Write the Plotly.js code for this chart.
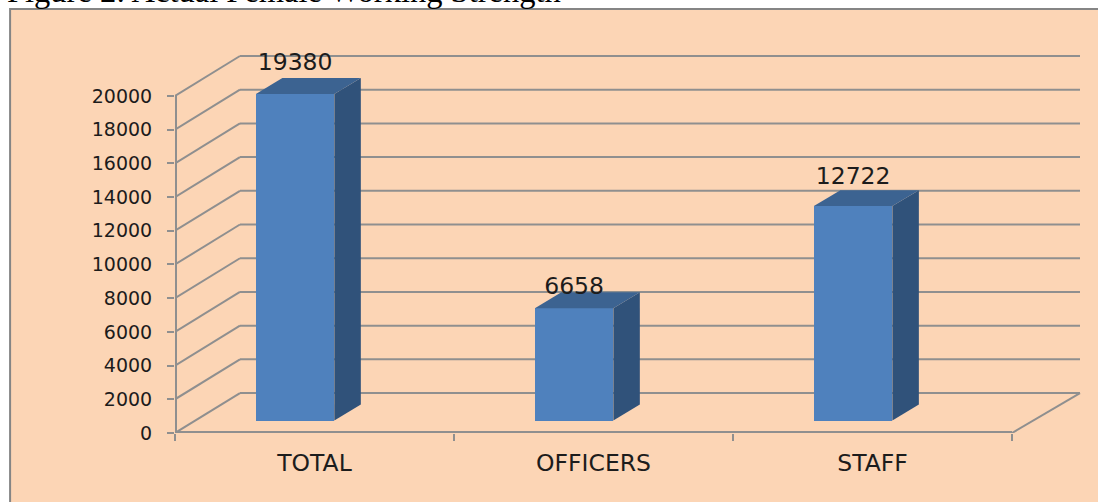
<!DOCTYPE html>
<html>
<head>
<meta charset="utf-8">
<script src="https://cdn.plot.ly/plotly-3.0.1.min.js"></script>
<style>html,body{margin:0;padding:0;background:#fff;overflow:hidden}#chart{width:1098px;height:502px}</style>
</head>
<body>
<div id="chart"></div>
<script>
const categories = ["TOTAL", "OFFICERS", "STAFF"];
const values = [19380, 6658, 12722];
const yTicks = [0, 2000, 4000, 6000, 8000, 10000, 12000, 14000, 16000, 18000, 20000];
const figureCaption = "Figure 2: Actual Female Working Strength";

const W = 1098, H = 502;
const L = 174.5, T = 50, B = 433.5, R = 1085;
const catPx = (1012 - L) / 3;
const k = 337.5 / 20000;
const px2x = p => p / catPx;
const px2y = p => p / k;
const wallDx = px2x(65), wallDy = px2y(40);
const wallEndDx = px2x(68);
const barDx = px2x(26.5), barDy = px2y(16);
const barBase = px2y(12.5);
const barWidth = px2x(78.5);
const barShift = -0.0695;
const labelLift = [14, 4, 12];
const x0 = -0.5, x1 = categories.length - 0.5;
const LINE = "#8f8f8f";
const centers = categories.map((_, i) => i + barShift);

const shapes = [{
  type: "rect", xref: "paper", yref: "paper", layer: "below",
  x0: (9.5 - L) / (R - L), x1: (W + 20 - L) / (R - L),
  y0: (B - (H + 20)) / (B - T), y1: (B - 9) / (B - T),
  fillcolor: "#FCD5B5", line: {color: "#858585", width: 2}
}];
yTicks.forEach(v => {
  shapes.push({type: "line", layer: "below", xref: "x", yref: "y", x0: x0, y0: v, x1: x0 + wallDx, y1: v + wallDy, line: {color: LINE, width: 2}});
  shapes.push({type: "line", layer: "below", xref: "x", yref: "y", x0: x0 + wallDx, y0: v + wallDy, x1: x1 + wallEndDx, y1: v + wallDy, line: {color: LINE, width: 2}});
});
shapes.push({type: "line", layer: "below", xref: "x", yref: "y", x0: x1, y0: 0, x1: x1 + wallEndDx, y1: wallDy, line: {color: LINE, width: 2}});

const front = {
  type: "bar", x: centers, y: values, base: categories.map(() => barBase), width: barWidth,
  marker: {color: "#4F81BD", line: {width: 0}}, hoverinfo: "skip", showlegend: false
};
const sides = categories.map((_, i) => {
  const xr = centers[i] + barWidth / 2, top = barBase + values[i];
  return {type: "scatter", mode: "lines", fill: "toself", fillcolor: "#30527A", line: {width: 0, color: "#30527A"},
    x: [xr, xr + barDx, xr + barDx, xr, xr], y: [barBase, barBase + barDy, top + barDy, top, barBase],
    hoverinfo: "skip", showlegend: false};
});
const tops = categories.map((_, i) => {
  const xl = centers[i] - barWidth / 2, xr = xl + barWidth, top = barBase + values[i];
  return {type: "scatter", mode: "lines", fill: "toself", fillcolor: "#3C6391", line: {width: 0, color: "#3C6391"},
    x: [xl, xr, xr + barDx, xl + barDx, xl], y: [top, top, top + barDy, top + barDy, top],
    hoverinfo: "skip", showlegend: false};
});
const axisLines = {
  type: "scatter", mode: "lines", line: {color: LINE, width: 4},
  x: [x0, x0, null, x0, x1], y: [yTicks[yTicks.length - 1], 0, null, 0, 0],
  hoverinfo: "skip", showlegend: false
};
const labels = {
  type: "scatter", mode: "text", cliponaxis: false, textposition: "middle center",
  x: centers, y: values.map((v, i) => barBase + v + barDy + px2y(labelLift[i])),
  text: values.map(String), textfont: {family: "DejaVu Sans", size: 23.5, color: "#1c1c1c"},
  hoverinfo: "skip", showlegend: false
};

const layout = {
  width: W, height: H, showlegend: false,
  paper_bgcolor: "#ffffff", plot_bgcolor: "rgba(0,0,0,0)",
  margin: {l: L, r: W - R, t: T, b: H - B, pad: 0},
  bargap: 0,
  xaxis: {
    type: "linear", range: [x0, x0 + (R - L) / catPx], showgrid: false, zeroline: false, showline: false,
    tickmode: "array", tickvals: categories.map((_, i) => i), ticktext: categories,
    ticks: "outside", ticklen: 9, tickcolor: "rgba(0,0,0,0)",
    tickfont: {family: "DejaVu Sans", size: 23.5, color: "#1c1c1c"},
    minor: {tickmode: "array", tickvals: [-0.5, 0.5, 1.5, 2.5], ticks: "outside", ticklen: 7, tickwidth: 2, tickcolor: LINE, showgrid: false}
  },
  yaxis: {
    range: [0, (B - T) / k], showgrid: false, zeroline: false, showline: false,
    tickmode: "array", tickvals: yTicks, ticktext: yTicks.map(String),
    ticks: "outside", ticklen: 7, tickwidth: 2, tickcolor: LINE, ticklabelstandoff: 11,
    tickfont: {family: "DejaVu Sans", size: 19, color: "#1c1c1c"}
  },
  shapes: shapes,
  annotations: [{
    xref: "paper", yref: "paper", x: (4 - L) / (R - L), y: (B + 9) / (B - T),
    xanchor: "left", yanchor: "middle", showarrow: false, align: "left",
    text: figureCaption, font: {family: "Liberation Serif", size: 32.5, color: "#000"}
  }]
};

Plotly.newPlot("chart", [front, ...sides, ...tops, axisLines, labels], layout, {displayModeBar: false, staticPlot: true});
</script>
</body>
</html>
